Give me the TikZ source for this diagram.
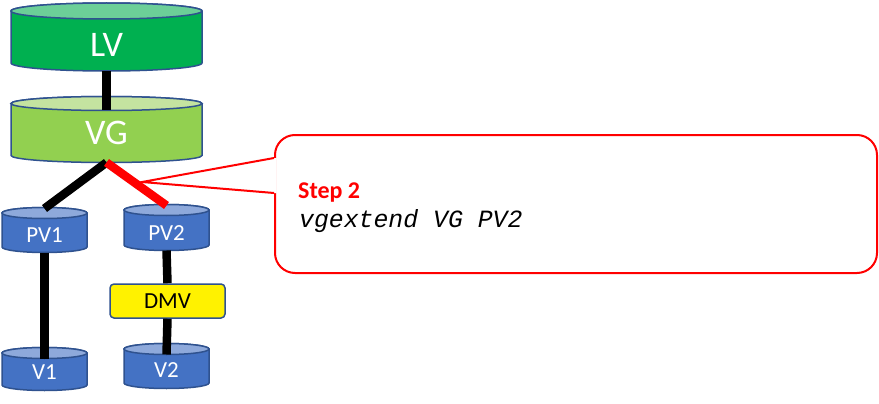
\documentclass[tikz,border=0pt]{standalone}
\usepackage{fontspec}
\setmainfont{Carlito}
\newfontfamily\codefont{Liberation Mono}
\definecolor{outl}{HTML}{2F528F}
\definecolor{lvtop}{HTML}{6CCF98}
\definecolor{lvbody}{HTML}{00B050}
\definecolor{vgtop}{HTML}{C4E3A0}
\definecolor{vgbody}{HTML}{92D050}
\definecolor{pvtop}{HTML}{8EA9DB}
\definecolor{pvbody}{HTML}{4472C4}
\newcommand\cylbody[7]{%
  \draw[cylline,fill=#7] (#1-#2,#3) -- (#1-#2,#4)
    arc[start angle=180,end angle=360,x radius=#2pt,y radius=#5pt]
    -- (#1+#2,#3)
    arc[start angle=0,end angle=180,x radius=#2pt,y radius=#5pt] -- cycle;
  \draw[cylline,fill=#6] (#1,#3) ellipse[x radius=#2pt,y radius=#5pt];
}
\begin{document}
\begin{tikzpicture}[x=1pt,y=-1pt,
  cylline/.style={draw=outl,line width=1.5pt},
  cylface/.style={inner sep=0pt,outer sep=0pt,text=white},
  bigcyl/.style={cylface,minimum width=191pt,minimum height=52pt,font=\fontsize{36}{40}\selectfont},
  smallcyl/.style={cylface,minimum width=85pt,font=\fontsize{23}{26}\selectfont},
  conn/.style={line width=8.5pt,black},
  callout/.style={draw=red,line width=2pt,fill=white,rounded corners=20pt,inner sep=0pt,minimum width=602pt,minimum height=138pt},
  dmvbox/.style={draw=outl,line width=1.5pt,fill=yellow,rounded corners=4pt,minimum width=115pt,minimum height=34pt,inner sep=0pt,font=\fontsize{23}{26}\selectfont}]
\useasboundingbox (0,0) rectangle (879,404);
% cylinders
\cylbody{106.5}{95.5}{11}{63}{8}{lvtop}{lvbody}
\cylbody{106.5}{95.5}{103.5}{155.5}{7}{vgtop}{vgbody}
\cylbody{44.5}{42.5}{213}{247}{5.5}{pvtop}{pvbody}
\cylbody{166.5}{42.5}{210}{245}{5.5}{pvtop}{pvbody}
\cylbody{44.5}{42.5}{353}{385}{5.5}{pvtop}{pvbody}
\cylbody{166.5}{42.5}{349}{383}{5.5}{pvtop}{pvbody}
\node[bigcyl] (lv) at (106.5,45) {LV};
\node[bigcyl,text depth=7pt] (vg) at (106.5,136.5) {VG};
\node[smallcyl,minimum height=34pt] (pv1) at (44.5,235.5) {PV1};
\node[smallcyl,minimum height=35pt] (pv2) at (166.5,233) {PV2};
\node[smallcyl,minimum height=32pt,text depth=5pt] (v1) at (44.5,374.5) {V1};
\node[smallcyl,minimum height=34pt,text depth=3pt] (v2) at (166.5,371.5) {V2};
% callout
\node[callout] (callout) at (576,204) {};
\coordinate (tip) at (142,182);
\coordinate (ptop) at ([yshift=46pt]callout.west);
\coordinate (pbot) at ([yshift=11pt]callout.west);
\fill[white] (tip) -- (ptop) -- ([xshift=2.5pt]ptop) -- ([xshift=2.5pt]pbot) -- (pbot) -- cycle;
\draw[red,line width=2pt] (ptop) -- (tip) -- (pbot);
\node[anchor=base west,inner sep=0pt,text=red,font=\bfseries\fontsize{24}{28}\selectfont] (step) at (298,198) {Step 2};
\node[anchor=base west,inner sep=0pt,font=\codefont\itshape\fontsize{24.8}{28}\selectfont] (cmd) at (299,227) {vgextend VG PV2};
% connectors
\node[dmvbox] (dmv) at (167.5,301) {DMV};
\draw[conn] (lv.south) -- (vg.north);
\draw[conn] (vg.south) -- ([yshift=10pt]pv1.north);
\draw[conn,red] (vg.south) -- ([yshift=10pt]pv2.north);
\draw[conn] (pv1.south) -- (v1.north);
\draw[conn] (pv2.south) -- (dmv.north);
\draw[conn] (dmv.south) -- (v2.north);
\end{tikzpicture}
\end{document}
